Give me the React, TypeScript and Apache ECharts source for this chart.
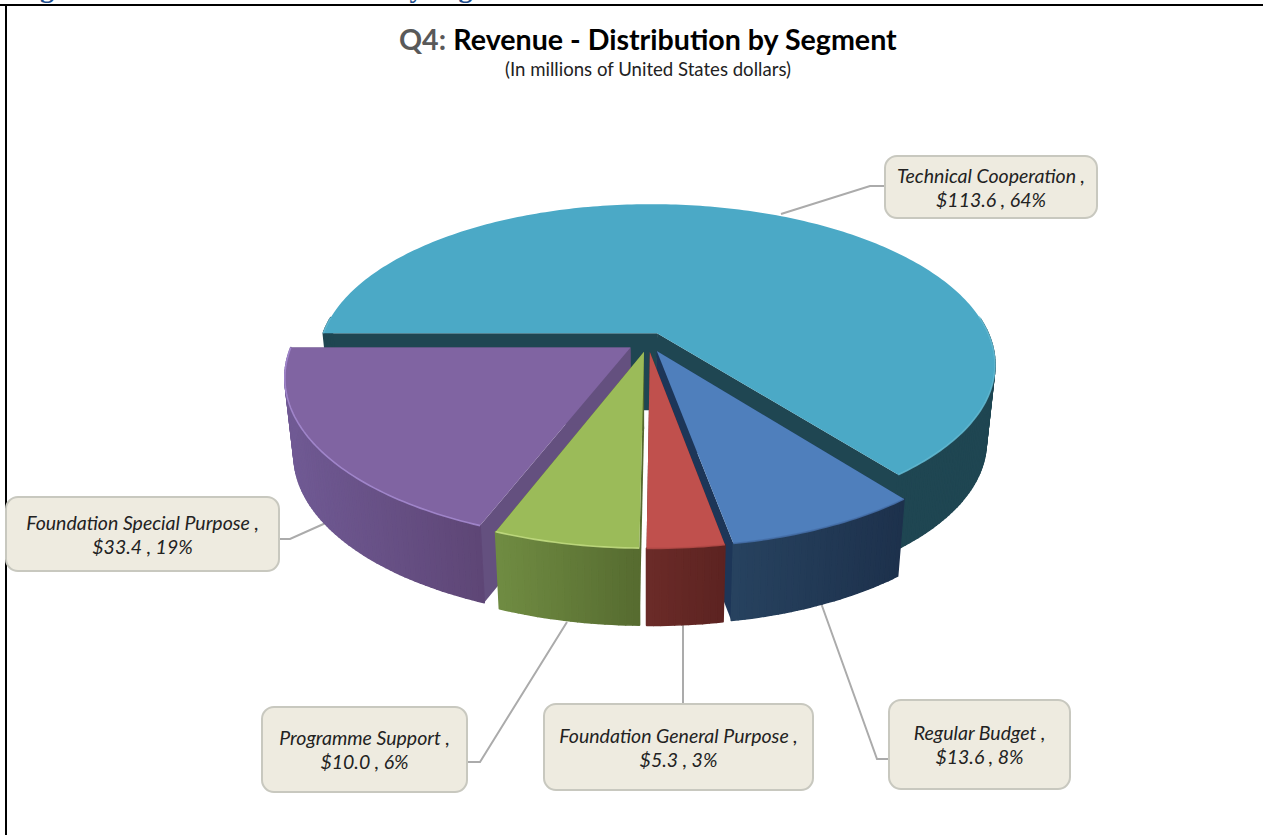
import React, { useEffect, useRef } from "react";
import * as echarts from "echarts";

const segments = ["Technical Cooperation", "Regular Budget", "Foundation General Purpose", "Programme Support", "Foundation Special Purpose"];
const revenue = [113.6, 13.6, 5.3, 10.0, 33.4];
const percents = [64, 8, 3, 6, 19];
const drawOrder = [0, 4, 1, 3, 2];

const topColors = ["#4BA9C6", "#4F7FBC", "#C0504D", "#9BBB59", "#8064A2"];
const rimColors = ["#64BBD4", "#456FA8", "#B34A47", "#C4DE84", "#A78CD2"];
const wallColors = ["#1F4652", "#1D3658", "#5E2522", "#55692F", "#64507F"];
const sideColors = [
  [[31, 70, 82], [31, 70, 82]],
  [[39, 66, 95], [29, 49, 76]],
  [[107, 43, 40], [92, 35, 33]],
  [[112, 140, 66], [86, 107, 48]],
  [[112, 90, 148], [94, 70, 118]],
];

const boxes = [
  { x: 885, y: 156, w: 212, h: 62, line: [[781, 214], [870, 186], [885, 186]] },
  { x: 889, y: 700, w: 181, h: 89, line: [[821, 603], [877, 759], [889, 759]] },
  { x: 544, y: 704, w: 269, h: 86, line: [[683, 625], [683, 704]] },
  { x: 262, y: 707, w: 205, h: 85, line: [[567, 622], [480, 762], [467, 762]] },
  { x: 6, y: 497, w: 273, h: 74, line: [[328, 522], [290, 539], [279, 539]] },
];

const CX = 648, CY = 342, R = 336, RY = 156, P = 0.185, Q = 0.004, SKEW = 0.025, EXPLODE = 0.063, DEPTH = 77, BOTTOM_SCALE = 0.975;
const START_ANGLE = 180;
const rad = (d: number) => (d * Math.PI) / 180;
const total = revenue.reduce((a, b) => a + b, 0);

const starts: number[] = [];
revenue.reduce((acc, v, i) => {
  starts[i] = acc;
  return acc + (v / total) * 360;
}, START_ANGLE);

function project(x: number, y: number, bottom: boolean) {
  const w = 1 - P * y + Q * x;
  const py = CY + (RY * y) / w;
  const px = CX + (R * x) / w + SKEW * (py - CY);
  return bottom ? [CX + (px - CX) * BOTTOM_SCALE, py + DEPTH] : [px, py];
}

function renderSlice(_params: any, api: any) {
  const i = api.value(0);
  const from = starts[i];
  const to = from + (api.value(1) / total) * 360;
  const mid = rad((from + to) / 2);
  const ex = EXPLODE * Math.cos(mid);
  const ey = EXPLODE * Math.sin(mid);
  const pt = (deg: number, bottom: boolean) => project(ex + Math.cos(rad(deg)), ey + Math.sin(rad(deg)), bottom);
  const tip = (bottom: boolean) => project(ex, ey, bottom);
  const n = Math.max(10, Math.ceil(to - from));
  const degs: number[] = [];
  for (let k = 0; k <= n; k++) degs.push(from + ((to - from) * k) / n);
  const topArc = degs.map((d) => pt(d, false));
  const botArc = degs.map((d) => pt(d, true));
  const wall = (deg: number) => ({
    type: "polygon",
    shape: { points: [tip(false), pt(deg, false), pt(deg, true), tip(true)] },
    style: { fill: wallColors[i] },
  });
  const xs = topArc.map((p) => p[0]);
  const minX = Math.min(...xs);
  const maxX = Math.max(...xs);
  const quads: any[] = [];
  for (let k = 0; k < n; k++) {
    if (Math.sin(rad(degs[k])) < -0.1) continue;
    const t = maxX > minX ? ((topArc[k][0] + topArc[k + 1][0]) / 2 - minX) / (maxX - minX) : 0;
    const [a, b] = sideColors[i];
    const color = `rgb(${a.map((c, j) => Math.round(c + (b[j] - c) * t)).join(",")})`;
    quads.push({
      type: "polygon",
      shape: { points: [topArc[k], topArc[k + 1], botArc[k + 1], botArc[k]] },
      style: { fill: color, stroke: color, lineWidth: 1.6, lineJoin: "round" },
    });
  }
  const rimRuns: number[][][] = [];
  let run: number[][] = [];
  degs.forEach((d) => {
    if (Math.sin(rad(d)) > -0.12) {
      run.push(pt(d, false));
    } else if (run.length) {
      rimRuns.push(run);
      run = [];
    }
  });
  if (run.length) rimRuns.push(run);
  return {
    type: "group",
    children: [
      wall(from),
      wall(to),
      ...quads,
      {
        type: "polygon",
        shape: { points: [tip(false), ...topArc] },
        style: { fill: topColors[i] },
      },
      ...rimRuns.map((points) => ({
        type: "polyline",
        shape: { points },
        style: { stroke: rimColors[i], lineWidth: 1.6, fill: "none", opacity: 0.85 },
      })),
    ],
  };
}

const labelText = (i: number) => `${segments[i]} ,\n$${revenue[i].toFixed(1)} , ${percents[i]}%`;

const App = () => {
  const ref = useRef<HTMLDivElement>(null);
  useEffect(() => {
    const chart = echarts.init(ref.current!, null, { renderer: "svg" });
    const graphics: any[] = [
      { type: "line", shape: { x1: 0, y1: 5, x2: 1263, y2: 5 }, style: { stroke: "#000", lineWidth: 2 } },
      { type: "line", shape: { x1: 6, y1: 5, x2: 6, y2: 835 }, style: { stroke: "#000", lineWidth: 2 } },
      {
        type: "text",
        x: 15,
        y: -27,
        style: { text: "Figure 4: Revenue Distribution by Segment", font: "bold 28px 'Liberation Serif'", fill: "#1F4E8C" },
      },
      {
        type: "text",
        x: 648,
        y: 39,
        style: {
          text: "{a|Q4: }{b|Revenue - Distribution by Segment}",
          align: "center",
          verticalAlign: "middle",
          rich: {
            a: { font: "bold 28.6px Lato", fill: "#595959" },
            b: { font: "bold 28.6px Lato", fill: "#000000" },
          },
        },
      },
      {
        type: "text",
        x: 648,
        y: 69,
        style: { text: "(In millions of United States dollars)", font: "18.6px Lato", fill: "#222222", align: "center", verticalAlign: "middle" },
      },
    ];
    boxes.forEach((b, i) => {
      graphics.push({
        type: "polyline",
        z: 1,
        shape: { points: b.line },
        style: { stroke: "#ABABAB", lineWidth: 2, fill: "none" },
      });
      graphics.push({
        type: "rect",
        z: 20,
        shape: { x: b.x, y: b.y, width: b.w, height: b.h, r: 12 },
        style: { fill: "#EEEBE0", stroke: "#C8C8BF", lineWidth: 2 },
      });
      graphics.push({
        type: "text",
        z: 21,
        x: b.x + b.w / 2,
        y: b.y + b.h / 2,
        style: {
          text: labelText(i),
          font: "italic 19.5px Lato",
          lineHeight: 24,
          fill: "#222222",
          align: "center",
          verticalAlign: "middle",
        },
      });
    });
    chart.setOption({
      animation: false,
      backgroundColor: "#FFFFFF",
      graphic: graphics,
      series: [
        {
          type: "custom",
          coordinateSystem: "none",
          renderItem: renderSlice,
          silent: true,
          z: 5,
          data: drawOrder.map((i) => [i, revenue[i]]),
        },
      ],
    });
    return () => chart.dispose();
  }, []);
  return <div ref={ref} style={{ position: "fixed", left: 0, top: 0, width: 1263, height: 835 }} />;
};

export default App;
